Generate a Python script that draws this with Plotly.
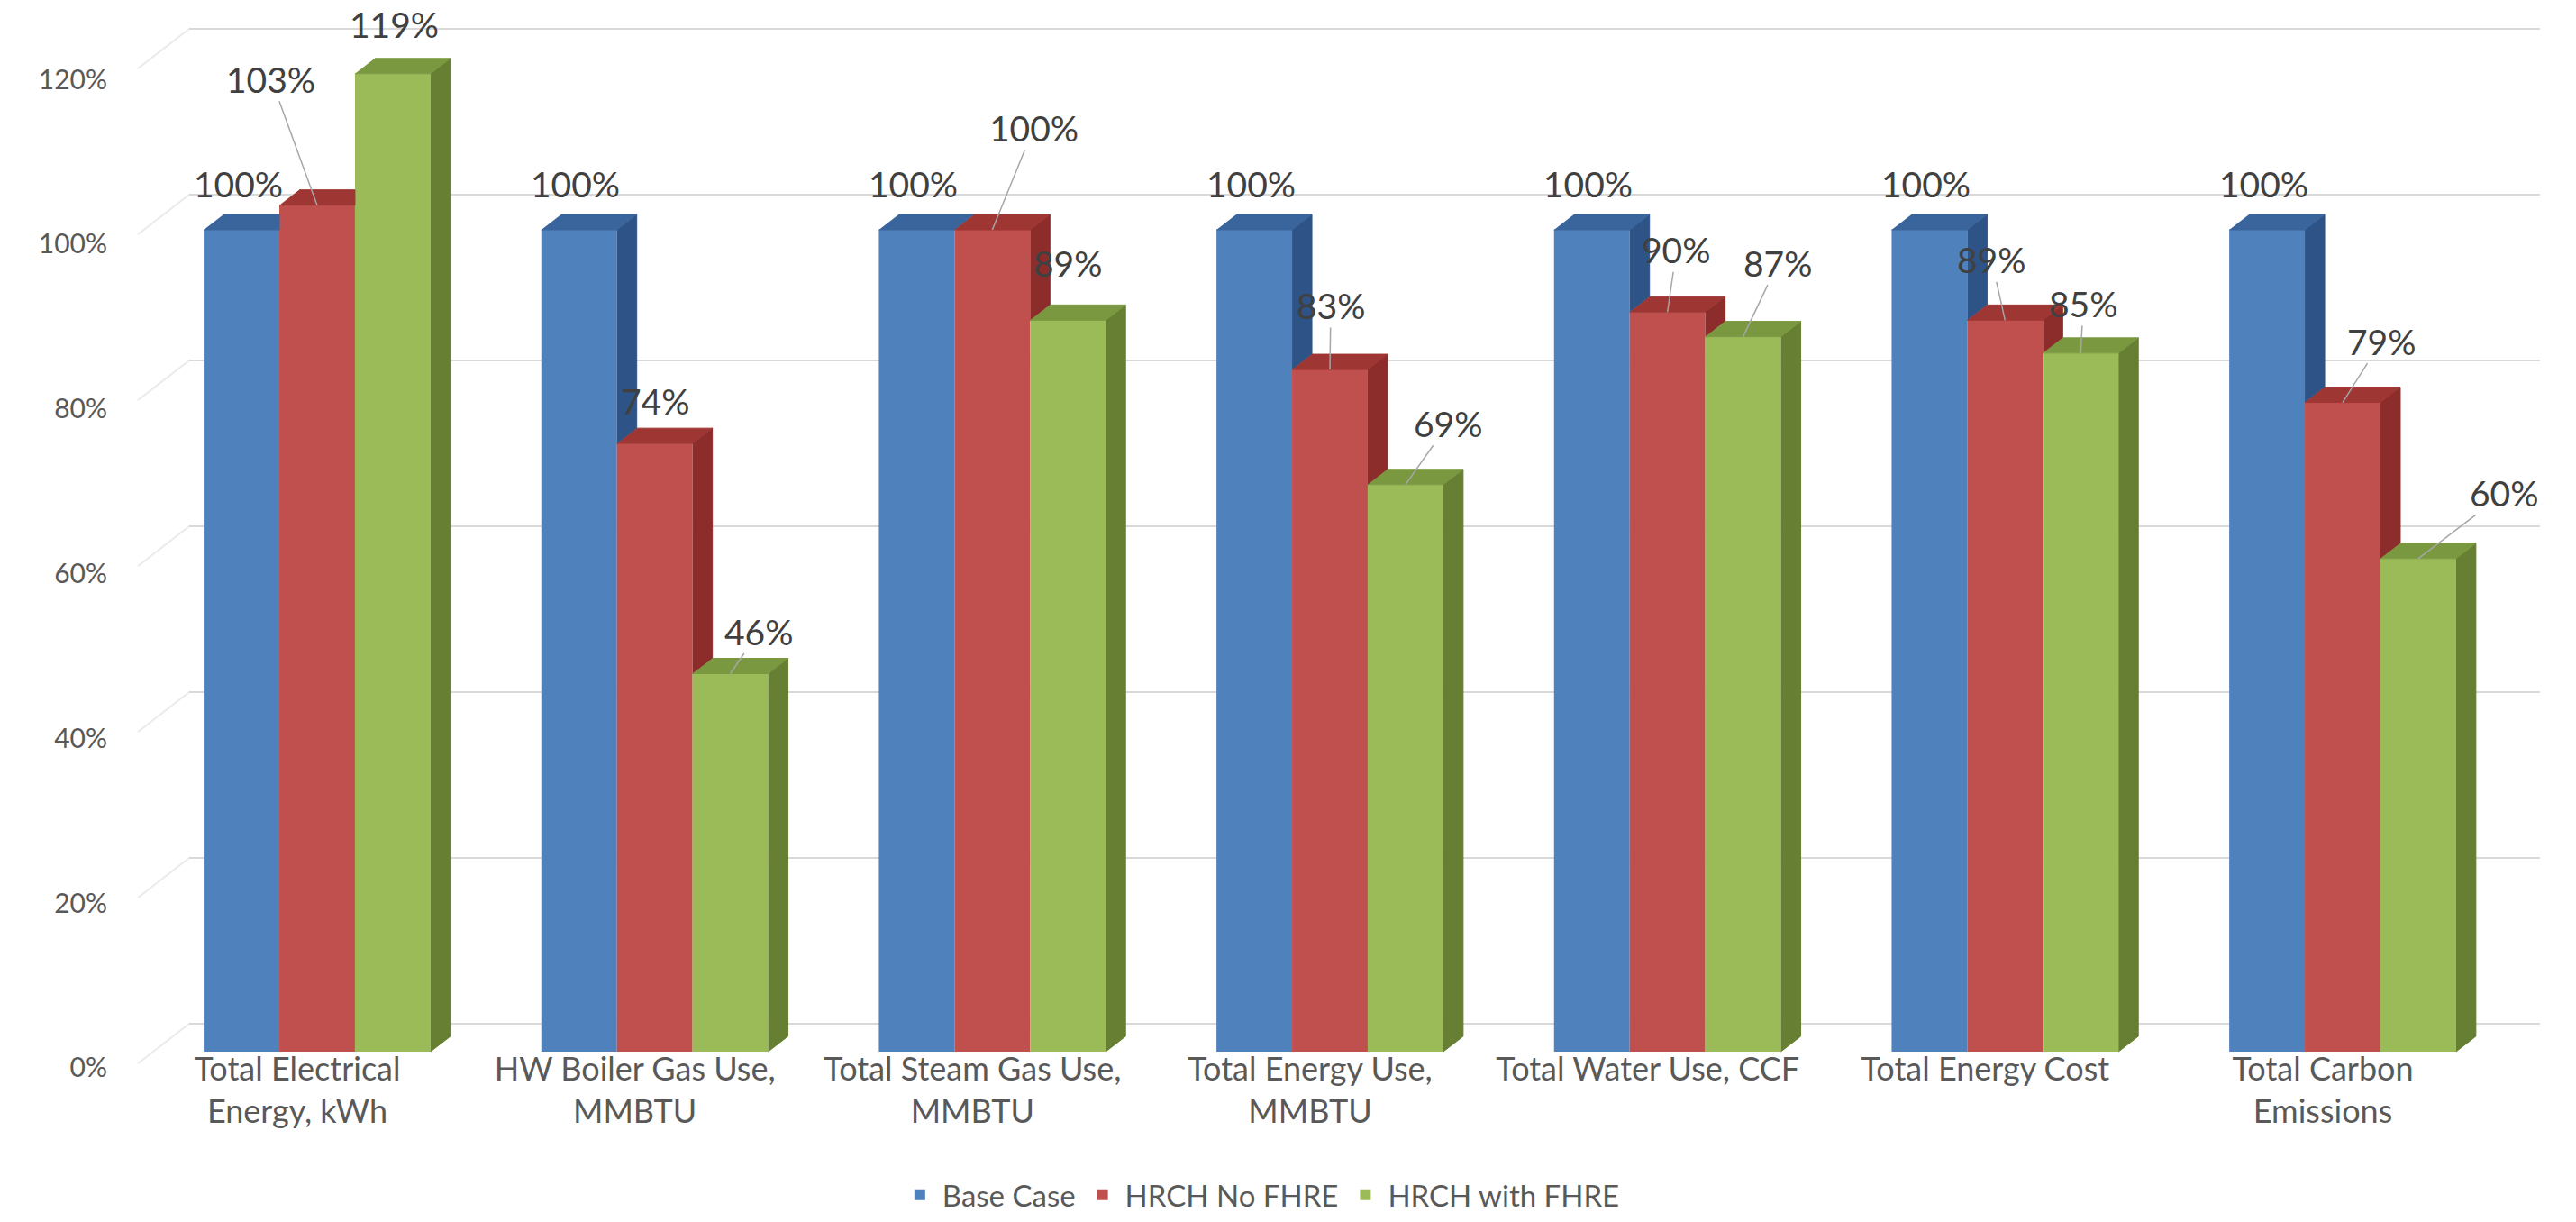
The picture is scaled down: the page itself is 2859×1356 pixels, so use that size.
import plotly.graph_objects as go

# ---------------- data ----------------
categories = ["Total Electrical Energy, kWh", "HW Boiler Gas Use, MMBTU",
              "Total Steam Gas Use, MMBTU", "Total Energy Use, MMBTU",
              "Total Water Use, CCF", "Total Energy Cost", "Total Carbon Emissions"]
tick_labels = ["Total Electrical<br>Energy, kWh", "HW Boiler Gas Use,<br>MMBTU",
               "Total Steam Gas Use,<br>MMBTU", "Total Energy Use,<br>MMBTU",
               "Total Water Use, CCF", "Total Energy Cost", "Total Carbon<br>Emissions"]
series_names = ["Base Case", "HRCH No FHRE", "HRCH with FHRE"]
base_case = [100, 100, 100, 100, 100, 100, 100]
hrch_no_fhre = [103, 74, 100, 83, 90, 89, 79]
hrch_with_fhre = [119, 46, 89, 69, 87, 85, 60]
y_ticks = [0, 20, 40, 60, 80, 100, 120]

# ---------------- styles ----------------
front_colors = ["#4F81BD", "#C0504D", "#9BBB59"]
side_colors = ["#2E5386", "#8C2D2B", "#667F33"]
top_colors = ["#3A659C", "#9E3634", "#7A9840"]
label_dx = [[-4] * 7,
            [-51, 1, 46, 1, 10, -15, 43],
            [2, 32, 0, 48, 39, 3, 96]]
label_dy = [[-51] * 7,
            [-140, -47, -113, -71, -69, -67, -68],
            [-55, -47, -63, -68, -82, -55, -73]]
leaders = [[False] * 7,
           [True, False, True, True, True, True, True],
           [False, True, False, True, True, True, True]]

W, H = 2859, 1356
ML, MR, MT, MB = 120, 40, 10, 130
PW, PH = W - ML - MR, H - MT - MB
XR = [-0.6192, 6.5845]
YR = [-6.47, 126.87]          # front (bars)
YR_GRID = [-9.78, 122.39]     # back wall gridlines
YR_LBL = [-4.49, 128.55]      # axis labels
BARGAP = 0.328
BW = (1 - BARGAP) / 3
px_x = PW / (XR[1] - XR[0])
px_y = PH / (YR[1] - YR[0])
DX = 22 / px_x
DY = 17 / px_y
WALL_X0 = 90 / PW     # back wall left edge (paper)
SIDE_X0 = 33 / PW     # front-left corner of side wall (paper)

series = [base_case, hrch_no_fhre, hrch_with_fhre]
xs = list(range(len(categories)))

fig = go.Figure()
for s, vals in enumerate(series):
    fig.add_trace(go.Bar(x=xs, y=vals, name=series_names[s],
                         marker=dict(color=front_colors[s], line=dict(width=0)),
                         hoverinfo="skip"))

# 3D side / top faces derived from the values
for s, vals in enumerate(series):
    sx, sy, tx, ty = [], [], [], []
    for g, v in enumerate(vals):
        xc = g + (s - 1) * BW
        x0, x1 = xc - BW / 2, xc + BW / 2
        nxt = series[s + 1][g] if s < 2 else None
        if nxt is None or nxt < v:
            base = 0 if nxt is None else nxt
            sx += [x1, x1 + DX, x1 + DX, x1, None]
            sy += [base, base + DY, v + DY, v, None]
        if nxt is not None and nxt > v:
            if nxt >= v + DY:
                tx += [x0, x1, x1, x0 + DX, None]
                ty += [v, v, v + DY, v + DY, None]
            else:
                tx += [x0, x1, x1, x1 + DX * (nxt - v) / DY, x1 + DX, x0 + DX, None]
                ty += [v, v, nxt, nxt, v + DY, v + DY, None]
        else:
            tx += [x0, x1, x1 + DX, x0 + DX, None]
            ty += [v, v, v + DY, v + DY, None]
    for fx, fy, col in ((sx, sy, side_colors[s]), (tx, ty, top_colors[s])):
        if fx:
            fig.add_trace(go.Scatter(x=fx, y=fy, mode="lines", fill="toself",
                                     fillcolor=col, line=dict(color=col, width=1),
                                     showlegend=False, hoverinfo="skip"))

# invisible carriers so the gridline axis and the label axis exist
fig.add_trace(go.Scatter(x=[0] * len(y_ticks), y=y_ticks, yaxis="y2",
                         mode="markers", marker=dict(opacity=0), showlegend=False,
                         hoverinfo="skip"))
fig.add_trace(go.Scatter(x=[0] * len(y_ticks), y=y_ticks, yaxis="y3",
                         mode="markers", marker=dict(opacity=0), showlegend=False,
                         hoverinfo="skip"))

# back-wall gridlines and side-wall diagonals
for t in y_ticks:
    fig.add_shape(type="line", xref="paper", yref="y2", x0=WALL_X0, x1=1, y0=t, y1=t,
                  line=dict(color="#D9D9D9", width=2), layer="below")
    fig.add_shape(type="line", xref="paper", yref="y2", x0=SIDE_X0, x1=WALL_X0,
                  y0=t - 4.8, y1=t, line=dict(color="#EBEBEB", width=2), layer="below")

# data labels
for s, vals in enumerate(series):
    for g, v in enumerate(vals):
        fig.add_annotation(x=g + (s - 1) * BW, y=v, xref="x", yref="y",
                           text=f"{v}%", showarrow=True, arrowhead=0,
                           arrowwidth=1.5,
                           arrowcolor="#A6A6A6" if leaders[s][g] else "rgba(0,0,0,0)",
                           ax=label_dx[s][g], ay=label_dy[s][g], standoff=0,
                           font=dict(family="Lato", size=39, color="#404040"))

fig.update_layout(
    width=W, height=H, margin=dict(l=ML, r=MR, t=MT, b=MB, autoexpand=False),
    paper_bgcolor="white", plot_bgcolor="white",
    barmode="group", bargap=BARGAP, bargroupgap=0,
    font=dict(family="Lato", color="#595959"),
    xaxis=dict(range=XR, tickvals=xs, ticktext=tick_labels, anchor="free",
               position=(0 - YR[0]) / (YR[1] - YR[0]) + 5 / PH,
               showgrid=False, zeroline=False, showline=False, ticks="",
               ticklabelshift=-22, tickfont=dict(family="Lato", size=36, color="#595959")),
    yaxis=dict(range=YR, showgrid=False, zeroline=False, showticklabels=False, ticks=""),
    yaxis2=dict(range=YR_GRID, overlaying="y", anchor="x", side="left",
                showgrid=False, zeroline=False, showticklabels=False, ticks="",
                showline=False),
    yaxis3=dict(range=YR_LBL, overlaying="y", anchor="x", side="left",
                tickvals=y_ticks, ticktext=[f"{t}%" for t in y_ticks],
                showgrid=False, zeroline=False, ticks="", showline=False,
                tickfont=dict(family="Lato", size=30, color="#595959")),
    legend=dict(orientation="h", x=0.474, xanchor="center", y=-0.082, yanchor="middle",
                font=dict(family="Lato", size=33, color="#595959"), traceorder="normal",
                itemwidth=40, borderwidth=0),
    showlegend=True,
)

fig.write_html("out.html")
